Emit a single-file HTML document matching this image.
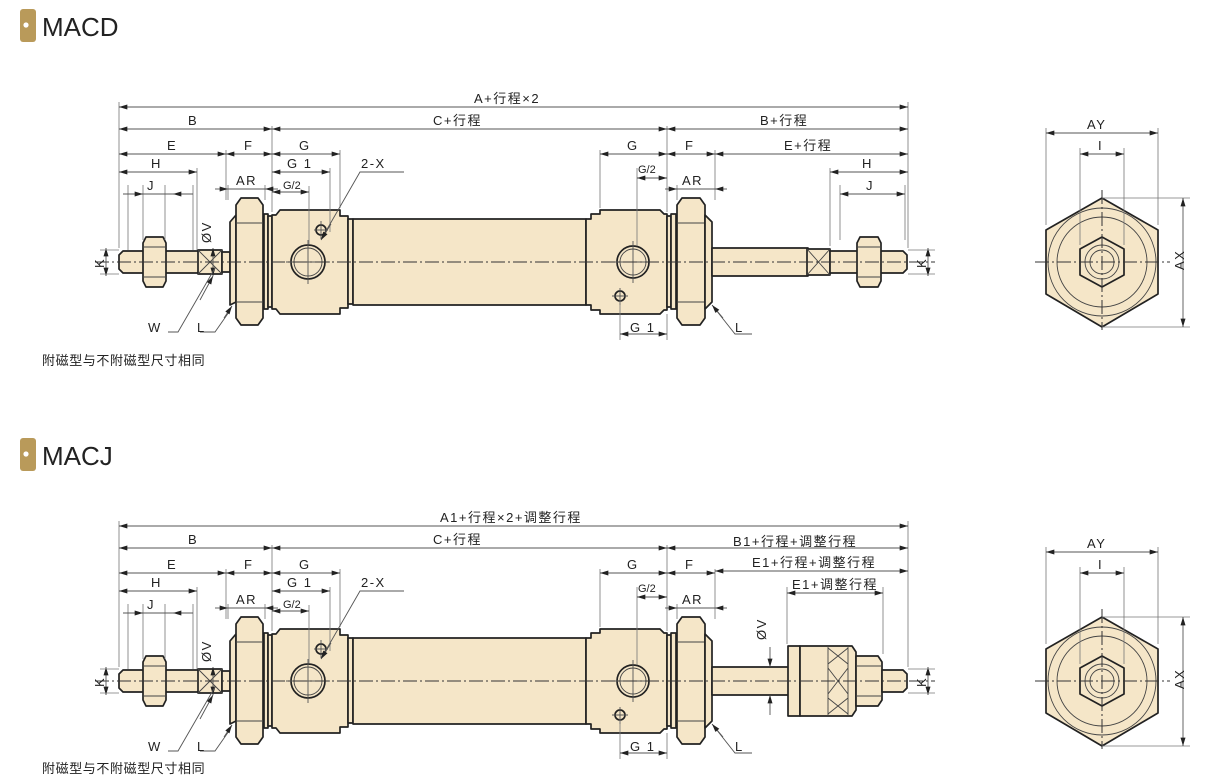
<!DOCTYPE html>
<html><head><meta charset="utf-8"><style>
html,body{margin:0;padding:0;background:#fff;width:1225px;height:780px;overflow:hidden}
svg{display:block}
text{font-family:"Liberation Sans","Noto Sans CJK SC",sans-serif;fill:#222}
.p{fill:#f5e6c8;stroke:#222;stroke-width:1.7;stroke-linejoin:round}
.t{fill:none;stroke:#444;stroke-width:0.9}
.c{fill:none;stroke:#333;stroke-width:1;stroke-dasharray:14 3 2 3}
.d{fill:none;stroke:#555;stroke-width:0.9}
.e{fill:none;stroke:#777;stroke-width:0.8}
.dt{font-size:13px;letter-spacing:1.5px}
</style></head><body>
<svg width="1225" height="780" viewBox="0 0 1225 780">
<defs>
<marker id="a" viewBox="0 0 10 6" refX="10" refY="3" markerWidth="12" markerHeight="5" orient="auto-start-reverse" markerUnits="userSpaceOnUse"><path d="M0,0L10,3L0,6z" fill="#222"/></marker>
<g id="left">
 <path class="p" d="M123,251 L200,251 L200,273 L123,273 L119,269 L119,255Z"/>
 <path class="p" d="M146,237 L163,237 L166,243 L166,281 L163,287 L146,287 L143,281 L143,243Z"/>
 <line class="t" x1="143" y1="247" x2="166" y2="247"/><line class="t" x1="143" y1="277" x2="166" y2="277"/>
 <path class="p" d="M198,250 L222,250 L222,274 L198,274Z"/>
 <path class="t" d="M198,250L222,274M222,250L198,274"/>
 <rect class="p" x="222" y="252" width="8" height="20"/>
 <path class="p" d="M230,222 L236,215 L236,302 L230,305Z"/>
 <path class="p" d="M236,205 L241,198 L258,198 L263,205 L263,318 L258,325 L241,325 L236,318Z"/>
 <line class="t" x1="236" y1="223" x2="263" y2="223"/><line class="t" x1="236" y1="302" x2="263" y2="302"/>
 <rect class="p" x="264" y="214" width="4" height="95"/><rect class="p" x="268" y="216" width="4" height="91"/>
 <path class="p" d="M272,215 L276,215 L280,210 L340,210 L340,216 L348,216 L348,308 L340,308 L340,314 L280,314 L276,309 L272,309Z"/>
 <path class="p" d="M348,219 L353,219 L353,304 L348,304Z"/>
 <circle class="p" cx="308" cy="262" r="17"/><circle class="t" cx="308" cy="262" r="14"/>
 <circle class="p" cx="321" cy="230" r="5"/>
 <path class="d" d="M308,240V284M286,262H330M321,221V239M314,230H328"/>
 <rect class="p" x="353" y="219" width="233" height="86"/>
 <path class="p" d="M586,219 L591,219 L591,214 L600,214 L600,210 L660,210 L664,214 L667,214 L667,310 L664,310 L660,314 L600,314 L600,310 L591,310 L591,305 L586,305Z"/>
 <circle class="p" cx="633" cy="262" r="16"/><circle class="t" cx="633" cy="262" r="13"/>
 <circle class="p" cx="620" cy="296" r="5"/>
 <path class="d" d="M633,241V283M612,262H654M620,288V305M612,296H628"/>
 <rect class="p" x="667" y="216" width="4" height="91"/><rect class="p" x="671" y="214" width="5" height="95"/>
 <path class="p" d="M677,205 L682,198 L700,198 L705,205 L705,318 L700,325 L682,325 L677,318Z"/>
 <line class="t" x1="677" y1="223" x2="705" y2="223"/><line class="t" x1="677" y1="302" x2="705" y2="302"/>
 <path class="p" d="M705,215 L712,222 L712,302 L705,309Z"/>
</g>
<g id="end">
 <path class="p" d="M1102,198 L1158,230 L1158,294 L1102,327 L1046,294 L1046,230Z"/>
 <circle class="t" cx="1102" cy="262" r="54"/><circle class="t" cx="1102" cy="262" r="45"/>
 <path class="p" d="M1102,237 L1124,249 L1124,275 L1102,287 L1080,275 L1080,249Z"/>
 <circle class="t" cx="1102" cy="262" r="17"/><circle class="t" cx="1102" cy="262" r="12"/>
 <path class="c" d="M1035,262H1170M1102,190V330"/>
 <path class="e" d="M1046,225V128M1158,225V128M1080,245V148M1124,245V148M1102,198H1190M1102,327H1190"/>
 <line class="d" x1="1046" y1="133" x2="1158" y2="133" marker-start="url(#a)" marker-end="url(#a)"/>
 <line class="d" x1="1080" y1="154" x2="1124" y2="154" marker-start="url(#a)" marker-end="url(#a)"/>
 <line class="d" x1="1183" y1="198" x2="1183" y2="327" marker-start="url(#a)" marker-end="url(#a)"/>
</g>
<g id="ldim">
 <path class="e" d="M119,102V248M272,126V212M226,150V200M197,168V250M128,185V250M193,185V250M143,185V240M165,185V240M340,150V208M330,168V232M309,186V244M228,185V200M265,185V200"/>
 <line class="d" x1="119" y1="129" x2="272" y2="129" marker-start="url(#a)" marker-end="url(#a)"/>
 <line class="d" x1="119" y1="154" x2="226" y2="154" marker-start="url(#a)" marker-end="url(#a)"/>
 <line class="d" x1="226" y1="154" x2="272" y2="154" marker-start="url(#a)" marker-end="url(#a)"/>
 <line class="d" x1="272" y1="154" x2="340" y2="154" marker-start="url(#a)" marker-end="url(#a)"/>
 <line class="d" x1="119" y1="172" x2="197" y2="172" marker-start="url(#a)" marker-end="url(#a)"/>
 <line class="d" x1="272" y1="172" x2="330" y2="172" marker-start="url(#a)" marker-end="url(#a)"/>
 <line class="d" x1="272" y1="192" x2="309" y2="192" marker-start="url(#a)" marker-end="url(#a)"/>
 <line class="d" x1="123" y1="194" x2="143" y2="194" marker-end="url(#a)"/><line class="d" x1="193" y1="194" x2="173" y2="194" marker-end="url(#a)"/><line class="d" x1="143" y1="194" x2="173" y2="194"/>
 <line class="d" x1="215" y1="189" x2="228" y2="189" marker-end="url(#a)"/><line class="d" x1="278" y1="189" x2="265" y2="189" marker-end="url(#a)"/><line class="d" x1="228" y1="189" x2="265" y2="189"/>
 <line class="d" x1="106" y1="248" x2="106" y2="276" marker-start="url(#a)" marker-end="url(#a)"/>
 <path class="e" d="M100,250H119M100,274H119"/>
 <line class="d" x1="213" y1="248" x2="213" y2="276" marker-start="url(#a)" marker-end="url(#a)"/>
 <path class="d" d="M168,332H178L215,268"/><line class="d" x1="200" y1="300" x2="213" y2="276" marker-end="url(#a)"/>
 <path class="d" d="M200,332H215L229,312"/><line class="d" x1="224" y1="318" x2="232" y2="306" marker-end="url(#a)"/>
 <path class="d" d="M404,172H360L322,238"/>
 <line class="d" x1="331" y1="224" x2="321" y2="240" marker-end="url(#a)"/>
 <path class="e" d="M600,150V208M667,126V212M715,150V200M637,168V246M677,185V200"/>
 <line class="d" x1="600" y1="154" x2="667" y2="154" marker-start="url(#a)" marker-end="url(#a)"/>
 <line class="d" x1="667" y1="154" x2="715" y2="154" marker-start="url(#a)" marker-end="url(#a)"/>
 <line class="d" x1="637" y1="178" x2="667" y2="178" marker-start="url(#a)" marker-end="url(#a)"/>
 <line class="d" x1="665" y1="189" x2="677" y2="189" marker-end="url(#a)"/><line class="d" x1="727" y1="189" x2="715" y2="189" marker-end="url(#a)"/><line class="d" x1="677" y1="189" x2="715" y2="189"/>
 <path class="e" d="M620,300V340M667,314V340"/>
 <line class="d" x1="620" y1="334" x2="667" y2="334" marker-start="url(#a)" marker-end="url(#a)"/>
 <path class="d" d="M752,334H735L716,310"/><line class="d" x1="723" y1="318" x2="712" y2="305" marker-end="url(#a)"/>
</g>
</defs>

<rect x="20" y="9" width="16" height="33" rx="3" fill="#b99a5a"/><circle cx="26" cy="25" r="2.6" fill="#fff"/>
<text x="42" y="36" style="font-size:26px;fill:#222">MACD</text>
<rect x="20" y="438" width="16" height="33" rx="3" fill="#b99a5a"/><circle cx="26" cy="454" r="2.6" fill="#fff"/>
<text x="42" y="465" style="font-size:26px;fill:#222">MACJ</text>

<use href="#left"/>
<rect class="p" x="712" y="248" width="96" height="28"/>
<path class="p" d="M807,249 L830,249 L830,275 L807,275Z"/><path class="t" d="M807,249L830,275M830,249L807,275"/>
<path class="p" d="M830,251 L903,251 L907,255 L907,269 L903,273 L830,273Z"/>
<path class="p" d="M860,237 L878,237 L881,243 L881,281 L878,287 L860,287 L857,281 L857,243Z"/>
<line class="t" x1="857" y1="247" x2="881" y2="247"/><line class="t" x1="857" y1="277" x2="881" y2="277"/>
<line class="c" x1="95" y1="262" x2="935" y2="262"/>
<use href="#ldim"/>
<path class="e" d="M908,102V248M830,168V246M840,185V240M905,185V240"/>
<line class="d" x1="119" y1="107" x2="908" y2="107" marker-start="url(#a)" marker-end="url(#a)"/>
<line class="d" x1="272" y1="129" x2="667" y2="129" marker-start="url(#a)" marker-end="url(#a)"/>
<line class="d" x1="667" y1="129" x2="908" y2="129" marker-start="url(#a)" marker-end="url(#a)"/>
<line class="d" x1="715" y1="154" x2="908" y2="154" marker-start="url(#a)" marker-end="url(#a)"/>
<line class="d" x1="830" y1="172" x2="908" y2="172" marker-start="url(#a)" marker-end="url(#a)"/>
<line class="d" x1="840" y1="194" x2="905" y2="194" marker-start="url(#a)" marker-end="url(#a)"/>
<line class="d" x1="928" y1="248" x2="928" y2="276" marker-start="url(#a)" marker-end="url(#a)"/>
<path class="e" d="M908,250H935M908,274H935"/>
<use href="#end"/>

<g class="dt">
<text x="474" y="103">A+行程×2</text>
<text x="188" y="125">B</text><text x="433" y="125">C+行程</text><text x="760" y="125">B+行程</text>
<text x="167" y="150">E</text><text x="244" y="150">F</text><text x="299" y="150">G</text>
<text x="627" y="150">G</text><text x="685" y="150">F</text><text x="784" y="150">E+行程</text>
<text x="151" y="168">H</text><text x="287" y="168">G 1</text><text x="361" y="168">2-X</text>
<text x="862" y="168">H</text>
<text x="147" y="190">J</text><text x="236" y="185">AR</text><text x="283" y="189" style="font-size:11px;letter-spacing:0">G/2</text>
<text x="638" y="173" style="font-size:11px;letter-spacing:0">G/2</text><text x="682" y="185">AR</text><text x="866" y="190">J</text>
<text x="148" y="332">W</text><text x="197" y="332">L</text><text x="735" y="332">L</text><text x="630" y="332">G 1</text>
<text x="1087" y="129">AY</text><text x="1098" y="150">I</text>
<text transform="translate(1184,270) rotate(-90)">AX</text>
<text transform="translate(104,268) rotate(-90)">K</text>
<text transform="translate(926,268) rotate(-90)">K</text>
<text transform="translate(211,243) rotate(-90)">ØV</text>
</g>
<text x="42" y="365" style="font-size:13px;letter-spacing:0.6px;font-family:'Noto Sans CJK SC',sans-serif">附磁型与不附磁型尺寸相同</text>

<g transform="translate(0,419)">
<use href="#left"/>
<rect class="p" x="712" y="248" width="78" height="28"/>
<rect class="p" x="788" y="227" width="12" height="70"/>
<path class="p" d="M800,227 L852,227 L856,233 L856,291 L852,297 L800,297Z"/>
<path class="t" d="M828,229L848,245M848,229L828,245M828,249L848,275M848,249L828,275M828,279L848,295M848,279L828,295M828,227V297M848,227V297"/>
<path class="p" d="M856,237 L878,237 L882,243 L882,281 L878,287 L856,287Z"/>
<line class="t" x1="856" y1="247" x2="882" y2="247"/><line class="t" x1="856" y1="277" x2="882" y2="277"/>
<path class="p" d="M882,251 L903,251 L907,255 L907,269 L903,273 L882,273Z"/>
<line class="c" x1="95" y1="262" x2="935" y2="262"/>
<use href="#ldim"/>
<path class="e" d="M908,102V248M787,168V225M883,168V235"/>
<line class="d" x1="119" y1="107" x2="908" y2="107" marker-start="url(#a)" marker-end="url(#a)"/>
<line class="d" x1="272" y1="129" x2="667" y2="129" marker-start="url(#a)" marker-end="url(#a)"/>
<line class="d" x1="667" y1="129" x2="908" y2="129" marker-start="url(#a)" marker-end="url(#a)"/>
<line class="d" x1="715" y1="152" x2="908" y2="152" marker-start="url(#a)" marker-end="url(#a)"/>
<line class="d" x1="787" y1="174" x2="883" y2="174" marker-start="url(#a)" marker-end="url(#a)"/>
<line class="d" x1="770" y1="228" x2="770" y2="248" marker-end="url(#a)"/>
<line class="d" x1="770" y1="296" x2="770" y2="276" marker-end="url(#a)"/>
<line class="d" x1="928" y1="248" x2="928" y2="276" marker-start="url(#a)" marker-end="url(#a)"/>
<path class="e" d="M908,250H935M908,274H935"/>
<use href="#end"/>
</g>
<g class="dt">
<text x="440" y="522">A1+行程×2+调整行程</text>
<text x="188" y="544">B</text><text x="433" y="544">C+行程</text><text x="733" y="546">B1+行程+调整行程</text>
<text x="167" y="569">E</text><text x="244" y="569">F</text><text x="299" y="569">G</text>
<text x="627" y="569">G</text><text x="685" y="569">F</text><text x="752" y="567">E1+行程+调整行程</text>
<text x="792" y="589">E1+调整行程</text>
<text x="151" y="587">H</text><text x="287" y="587">G 1</text><text x="361" y="587">2-X</text>
<text x="147" y="609">J</text><text x="236" y="604">AR</text><text x="283" y="608" style="font-size:11px;letter-spacing:0">G/2</text>
<text x="638" y="592" style="font-size:11px;letter-spacing:0">G/2</text><text x="682" y="604">AR</text>
<text x="148" y="751">W</text><text x="197" y="751">L</text><text x="735" y="751">L</text><text x="630" y="751">G 1</text>
<text x="1087" y="548">AY</text><text x="1098" y="569">I</text>
<text transform="translate(1184,689) rotate(-90)">AX</text>
<text transform="translate(104,687) rotate(-90)">K</text>
<text transform="translate(926,687) rotate(-90)">K</text>
<text transform="translate(211,662) rotate(-90)">ØV</text>
<text transform="translate(766,640) rotate(-90)">ØV</text>
</g>
<text x="42" y="773" style="font-size:13px;letter-spacing:0.6px;font-family:'Noto Sans CJK SC',sans-serif">附磁型与不附磁型尺寸相同</text>
</svg>
</body></html>
